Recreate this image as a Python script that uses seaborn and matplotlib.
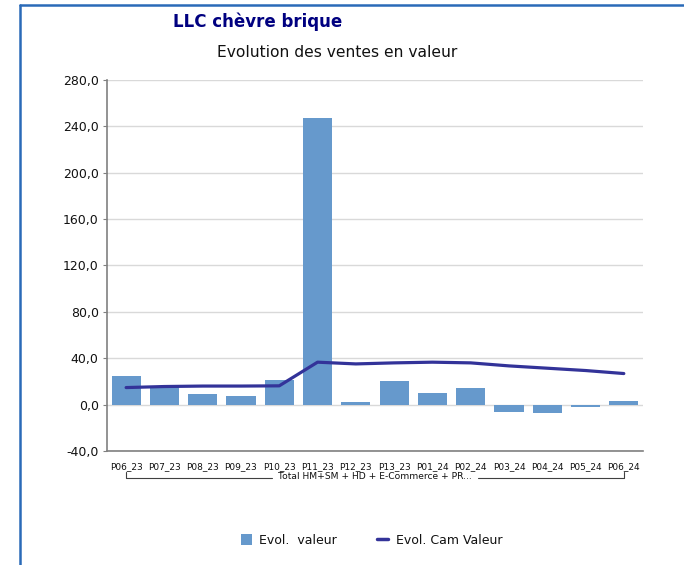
import numpy as np
import pandas as pd
import matplotlib
matplotlib.use("Agg")
import matplotlib.pyplot as plt
import matplotlib.transforms as mtransforms
from matplotlib.lines import Line2D
from matplotlib.patches import Patch
import seaborn as sns

# data
periods = ["P06_23", "P07_23", "P08_23", "P09_23", "P10_23", "P11_23", "P12_23",
           "P13_23", "P01_24", "P02_24", "P03_24", "P04_24", "P05_24", "P06_24"]
evol_valeur = [25.0, 15.0, 9.5, 7.0, 21.5, 247.0, 2.6, 20.7, 10.4, 14.7, -6.0, -7.0, -2.0, 3.5]
evol_cam_valeur = [14.7, 15.6, 16.0, 16.0, 16.2, 36.6, 35.1, 36.0, 36.6, 36.0, 33.4, 31.4, 29.4, 26.8]
group_label = "Total HM+SM + HD + E-Commerce + PR..."
yticks = [-40, 0, 40, 80, 120, 160, 200, 240, 280]

bar_color = "#6699cc"
line_color = "#333399"

df = pd.DataFrame({"periode": periods, "valeur": evol_valeur, "cam": evol_cam_valeur})
df["pos"] = np.arange(len(df))

sns.set_style("white")
plt.rcParams["font.family"] = ["DejaVu Sans"]
plt.rcParams["text.color"] = "#111111"
plt.rcParams["xtick.color"] = "#111111"
plt.rcParams["ytick.color"] = "#111111"

fig = plt.figure(figsize=(6.84, 5.65), dpi=100)
ax = fig.add_axes([0.1564, 0.2018, 0.7836, 0.6566])

sns.barplot(data=df, x="periode", y="valeur", color=bar_color, saturation=1,
            width=0.76, linewidth=0, edgecolor="none", ax=ax, zorder=2)
sns.lineplot(data=df, x="pos", y="cam", color=line_color, linewidth=2.3, ax=ax,
             zorder=3)

ax.set_xlim(-0.5, len(periods) - 0.5)
ax.set_ylim(-40, 280)
ax.set_yticks(yticks)
ax.set_yticklabels([f"{v:.1f}".replace(".", ",") for v in yticks], fontsize=9)
ax.set_xticks(df["pos"])
ax.set_xticklabels(periods, fontsize=6.5)
ax.tick_params(axis="x", length=0, pad=8)
ax.tick_params(axis="y", length=3, width=0.8, color="#808080", pad=3, left=True)
ax.set_xlabel("")
ax.set_ylabel("")
ax.grid(axis="y", color="#d9d9d9", linewidth=1, zorder=0)
ax.set_axisbelow(True)
for side in ["top", "right"]:
    ax.spines[side].set_visible(False)
for side in ["left", "bottom"]:
    ax.spines[side].set_color("#808080")
    ax.spines[side].set_linewidth(1.2)

# group bracket under the period labels (line broken around the label)
trans = mtransforms.blended_transform_factory(ax.transData, ax.transAxes)
x0, x1 = 0, len(periods) - 1
gap_l, gap_r = 3.8, 9.2
yb, yt = -0.074, -0.058
ax.text((x0 + x1) / 2, -0.069, group_label, transform=trans, ha="center", va="center",
        fontsize=6.6, zorder=5)
ax.plot([x0, x0, gap_l], [yt, yb, yb], transform=trans, color="#404040",
        linewidth=0.8, clip_on=False, zorder=4)
ax.plot([gap_r, x1, x1], [yb, yb, yt], transform=trans, color="#404040",
        linewidth=0.8, clip_on=False, zorder=4)

# titles
fig.text(0.376, 0.961, "LLC chèvre brique", ha="center", va="center",
         fontsize=12, fontweight="bold", color="#000080")
fig.text(0.493, 0.907, "Evolution des ventes en valeur", ha="center",
         va="center", fontsize=11.2)

# legend
handles = [Patch(facecolor=bar_color, edgecolor="none", label="Evol.  valeur"),
           Line2D([0], [0], color=line_color, linewidth=2.5, label="Evol. Cam Valeur")]
fig.legend(handles=handles, loc="center", bbox_to_anchor=(0.543, 0.044), ncol=2,
           frameon=False, fontsize=9, handlelength=0.9, handleheight=0.9,
           handletextpad=0.6, columnspacing=3.2)

# frame border (left and top)
fig.add_artist(Line2D([20 / 684, 20 / 684], [0, 1 - 5 / 565], color="#2a6ab8",
                      linewidth=1.8, transform=fig.transFigure))
fig.add_artist(Line2D([20 / 684, 1], [1 - 5 / 565, 1 - 5 / 565], color="#2a6ab8",
                      linewidth=1.8, transform=fig.transFigure))

fig.savefig("out.png", dpi=100)
